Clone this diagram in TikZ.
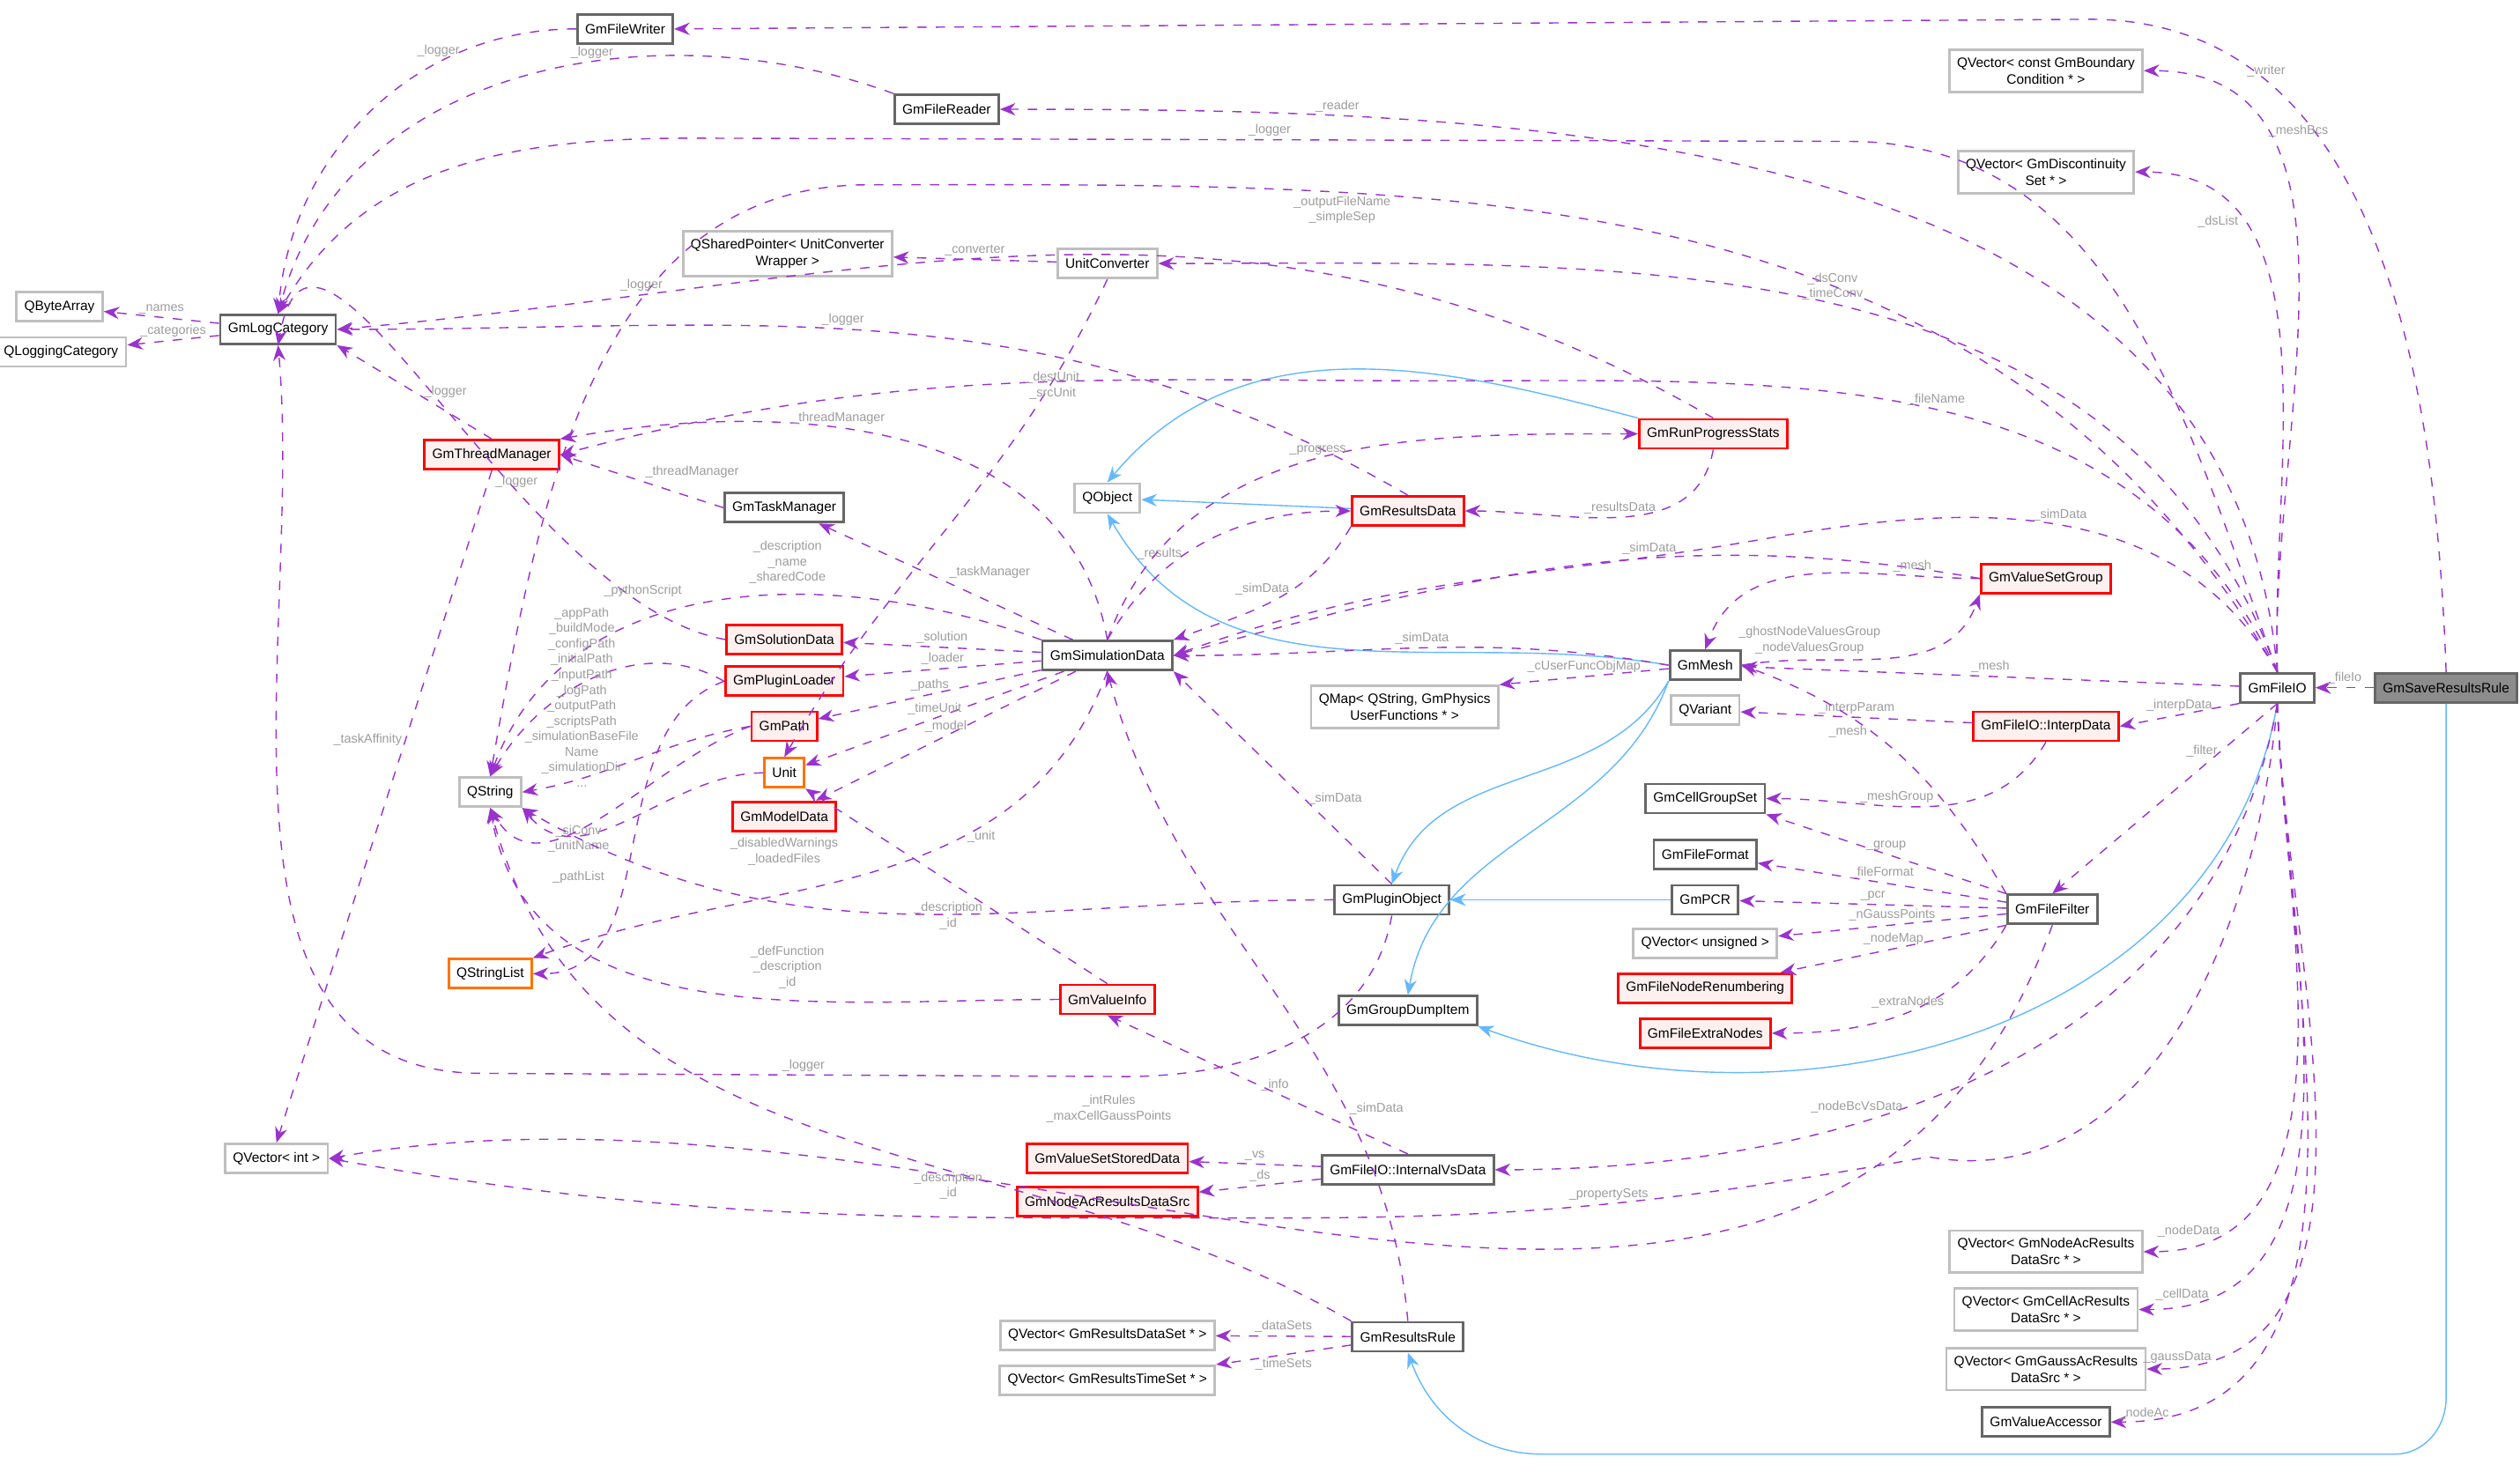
\documentclass[tikz,border=0pt]{standalone}
\usepackage{fontspec}
\setmainfont{Liberation Sans}
\usetikzlibrary{arrows.meta,positioning}
\definecolor{usecol}{HTML}{9A32CD}
\definecolor{inhcol}{HTML}{63B8FF}
\definecolor{lblcol}{HTML}{9C9C9C}
\begin{document}
\begin{tikzpicture}[x=0.01824cm,y=-0.01824cm,
    cls/.style={draw=black!60,fill=white,thick,minimum height=0.33cm,inner sep=2.5pt,align=center,font=\fontsize{4.4}{5.4}\selectfont},
    ext/.style={cls,draw=black!25},
    red/.style={cls,draw=red,fill=red!6},
    orng/.style={cls,draw=orange!90!red,fill=white},
    cur/.style={cls,fill=black!45},
    use/.style={-{Stealth[length=5pt,width=4pt]},dashed,usecol,thin},
    inh/.style={-{Stealth[length=5pt,width=4pt]},inhcol,thin},
    lbl/.style={text=lblcol,font=\fontsize{4.1}{5}\selectfont,align=center,inner sep=1pt}
  ]
    \useasboundingbox (0,0) rectangle (1568,916);
    % classes
    \node[cur] (save) at (1522,428) {GmSaveResultsRule};
    \node[cls] (fio) at (1417,428) {GmFileIO};
    \node[cls] (writer) at (389,18) {GmFileWriter};
    \node[cls] (reader) at (589,68) {GmFileReader};
    \node[ext] (vbc) at (1273,44) {QVector< const GmBoundary\\Condition * >};
    \node[ext] (vds) at (1273,107) {QVector< GmDiscontinuity\\Set * >};
    \node[ext] (bytes) at (37,191) {QByteArray};
    \node[ext] (qlog) at (38,219) {QLoggingCategory};
    \node[cls] (log) at (173,205) {GmLogCategory};
    \node[ext] (qsp) at (490,158) {QSharedPointer< UnitConverter\\Wrapper >};
    \node[ext] (uconv) at (689,164) {UnitConverter};
    \node[red] (thread) at (306,283) {GmThreadManager};
    \node[cls] (task) at (488,316) {GmTaskManager};
    \node[ext] (qobj) at (689,310) {QObject};
    \node[red] (prog) at (1066,270) {GmRunProgressStats};
    \node[red] (rdata) at (876,318) {GmResultsData};
    \node[red] (vsg) at (1273,360) {GmValueSetGroup};
    \node[cls] (sim) at (689,408) {GmSimulationData};
    \node[cls] (mesh) at (1061,414) {GmMesh};
    \node[ext] (qmap) at (874,440) {QMap< QString, GmPhysics\\UserFunctions * >};
    \node[ext] (qvar) at (1061,442) {QVariant};
    \node[red] (interp) at (1273,452) {GmFileIO::InterpData};
    \node[red] (sol) at (488,398) {GmSolutionData};
    \node[red] (loader) at (488,424) {GmPluginLoader};
    \node[red] (path) at (488,452) {GmPath};
    \node[orng] (unit) at (488,481) {Unit};
    \node[red] (model) at (488,508) {GmModelData};
    \node[ext] (qstr) at (305,493) {QString};
    \node[orng] (qsl) at (305,606) {QStringList};
    \node[cls] (cgs) at (1061,497) {GmCellGroupSet};
    \node[cls] (ffmt) at (1061,532) {GmFileFormat};
    \node[cls] (pcr) at (1061,560) {GmPCR};
    \node[cls] (plug) at (866,560) {GmPluginObject};
    \node[ext] (vuns) at (1061,587) {QVector< unsigned >};
    \node[red] (renum) at (1061,615) {GmFileNodeRenumbering};
    \node[red] (extra) at (1061,643) {GmFileExtraNodes};
    \node[cls] (filter) at (1277,566) {GmFileFilter};
    \node[cls] (dump) at (876,629) {GmGroupDumpItem};
    \node[red] (vinfo) at (689,622) {GmValueInfo};
    \node[ext] (vint) at (172,721) {QVector< int >};
    \node[red] (vssd) at (689,721) {GmValueSetStoredData};
    \node[cls] (ivs) at (876,728) {GmFileIO::InternalVsData};
    \node[red] (nads) at (689,748) {GmNodeAcResultsDataSrc};
    \node[ext] (vrds) at (689,831) {QVector< GmResultsDataSet * >};
    \node[ext] (vrts) at (689,859) {QVector< GmResultsTimeSet * >};
    \node[cls] (rrule) at (876,832) {GmResultsRule};
    \node[ext] (vnode) at (1273,779) {QVector< GmNodeAcResults\\DataSrc * >};
    \node[ext] (vcell) at (1273,815) {QVector< GmCellAcResults\\DataSrc * >};
    \node[ext] (vgauss) at (1273,852) {QVector< GmGaussAcResults\\DataSrc * >};
    \node[cls] (vacc) at (1273,885) {GmValueAccessor};

    % inheritance
    \draw[inh] (prog.north west) to[out=165,in=50] (qobj.north);
    \draw[inh] (rdata) -- (qobj);
    \draw[inh] (mesh.west) to[out=170,in=-60] (qobj.south);
    \draw[inh] (mesh.south west) to[out=-120,in=70] (plug.north);
    \draw[inh] (mesh.south west) to[out=-110,in=80] (dump.north);
    \draw[inh] (pcr) -- (plug);
    \draw[inh] (fio.south) to[out=-100,in=-20] (dump.south east);
    \draw[inh] (save.south) -- (1522,870) to[out=-90,in=0] (1490,905) -- (960,905) to[out=180,in=-70] (rrule.south);

    % usage from GmSaveResultsRule and GmFileIO
    \draw[use] (save) -- node[lbl,above] {\_fileIo} (fio);
    \draw[use] (save.north) to[out=92,in=0] node[lbl,pos=0.75,above] {\_writer} (1300,12) -- (writer.east);
    \draw[use] (fio.north) to[out=95,in=0] node[lbl,pos=0.8,above] {\_reader} (reader.east);
    \draw[use] (fio.north) to[out=92,in=0] node[lbl,pos=0.75,right] {\_meshBcs} (vbc.east);
    \draw[use] (fio.north) to[out=92,in=0] node[lbl,pos=0.75,left] {\_dsList} (vds.east);
    \draw[use] (fio.north) to[out=110,in=0] (1150,88) -- node[lbl,above] {\_logger} (430,86) to[out=180,in=60] (log.north);
    \draw[use] (fio.north) to[out=120,in=0] node[lbl,pos=0.72,below] {\_outputFileName\\\_simpleSep} (540,115) to[out=180,in=80] (qstr.north);
    \draw[use] (fio.north) to[out=110,in=0] node[lbl,pos=0.5,above] {\_dsConv\\\_timeConv} (uconv.east);
    \draw[use] (fio.north) to[out=115,in=0] node[lbl,pos=0.5,above] {\_fileName} (900,237) to[out=180,in=15] (thread.east);
    \draw[use] (fio.north) to[out=120,in=10] node[lbl,pos=0.5,above] {\_simData} (1100,335) to[out=190,in=20] (sim.east);
    \draw[use] (fio) -- node[lbl,above] {\_mesh} (mesh);
    \draw[use] (fio.south west) -- node[lbl,above] {\_interpData} (interp.east);
    \draw[use] (fio.south) -- node[lbl,pos=0.25,left] {\_filter} (filter.north);
    \draw[use] (fio.south) to[out=-100,in=0] node[lbl,pos=0.6,left] {\_nodeBcVsData} (ivs.east);
    \draw[use] (fio.south) to[out=-95,in=-10] (1200,720) to[out=190,in=0] node[lbl,above] {\_propertySets} (800,758) to[out=180,in=-10] (vint.east);
    \draw[use] (fio.south) to[out=-88,in=0] node[lbl,pos=0.85,left] {\_nodeData} (vnode.east);
    \draw[use] (fio.south) to[out=-88,in=0] node[lbl,pos=0.88,left] {\_cellData} (vcell.east);
    \draw[use] (fio.south) to[out=-88,in=0] node[lbl,pos=0.9,left] {\_gaussData} (vgauss.east);
    \draw[use] (fio.south) to[out=-88,in=0] node[lbl,pos=0.92,left] {\_nodeAc} (vacc.east);

    % logger and helpers
    \draw[use] (writer.west) to[out=180,in=85] node[lbl,pos=0.25,left] {\_logger} (log.north);
    \draw[use] (reader.north west) to[out=160,in=75] node[lbl,pos=0.4,above] {\_logger} (log.north);
    \draw[use] (log) -- node[lbl,above] {\_names} (bytes);
    \draw[use] (log) -- node[lbl,above] {\_categories} (qlog);
    \draw[use] (uconv) -- node[lbl,above] {\_converter} (qsp);
    \draw[use] (uconv.south) to[out=-115,in=60] (unit.north);
    \node[lbl] (dulbl) at (655,240) {\_destUnit\\\_srcUnit};
    \draw[use] (prog.north) to[out=150,in=5] node[lbl,pos=0.8,above] {\_logger} (log.east);
    \draw[use] (rdata.north) to[out=150,in=0] node[lbl,pos=0.55,above] {\_logger} (log.east);
    \draw[use] (thread.north) -- node[lbl,right=2pt] {\_logger} (log.south east);
    \draw[use] (thread.south) -- node[lbl,pos=0.4,left] {\_taskAffinity} (vint.north);
    \draw[use] (task.west) -- node[lbl,above right] {\_threadManager} (thread.east);

    % GmSimulationData
    \draw[use] (sim.north) to[out=100,in=10] node[lbl,pos=0.6,above] {\_threadManager} (thread.north east);
    \draw[use] (sim) -- node[lbl,above right] {\_taskManager} (task);
    \draw[use] (sim.north west) to[out=160,in=70] (qstr.north);
    \node[lbl] (dnslbl) at (490,350) {\_description\\\_name\\\_sharedCode};
    \draw[use] (sim) -- node[lbl,above] {\_solution} (sol);
    \draw[use] (sim) -- node[lbl,above] {\_loader} (loader);
    \draw[use] (sim) -- node[lbl,above] {\_paths} (path);
    \draw[use] (sim) -- node[lbl,above] {\_timeUnit} (unit);
    \draw[use] (sim) -- node[lbl,above] {\_model} (model);
    \draw[use] (sim.south) to[out=-110,in=20] node[lbl,pos=0.35,right] {\_unit} (qsl.north east);
    \draw[use] (sim.north) to[out=60,in=180] node[lbl,pos=0.4,left] {\_results} (rdata.west);
    \draw[use] (sim.north) to[out=70,in=180] node[lbl,pos=0.5,above] {\_progress} (prog.west);
    \draw[use] (rdata.south west) to[out=-120,in=20] node[lbl,pos=0.4,left] {\_simData} (sim.north east);
    \draw[use] (prog.south) to[out=-100,in=0] node[lbl,pos=0.5,above] {\_resultsData} (rdata.east);
    \draw[use] (vsg.west) to[out=170,in=15] node[lbl,pos=0.4,above] {\_simData} (sim.east);
    \draw[use] (mesh.west) to[out=170,in=0] node[lbl,pos=0.5,above] {\_simData} (sim.east);
    \draw[use] (vsg.west) to[out=180,in=70] node[lbl,pos=0.2,above] {\_mesh} (mesh.north);
    \draw[use] (mesh.east) to[out=10,in=-110] node[lbl,pos=0.5,above left] {\_ghostNodeValuesGroup\\\_nodeValuesGroup} (vsg.south west);
    \draw[use] (mesh) -- node[lbl,above] {\_cUserFuncObjMap} (qmap.north east);
    \draw[use] (interp) -- node[lbl,above] {\_interpParam} (qvar);
    \draw[use] (interp.south) to[out=-120,in=0] node[lbl,pos=0.6,above] {\_meshGroup} (cgs.east);

    % plugin loader, paths, units
    \draw[use] (sol.west) to[out=170,in=80] node[lbl,pos=0.35,above] {\_logger} (log.south);
    \draw[use] (loader.west) to[out=150,in=60] (qstr.north);
    \node[lbl] (pslbl) at (400,368) {\_pythonScript};
    \draw[use] (path.west) to[out=190,in=10] (qstr.east);
    \node[lbl] (pathlbl) at (362,434) {\_appPath\\\_buildMode\\\_configPath\\\_initialPath\\\_inputPath\\\_logPath\\\_outputPath\\\_scriptsPath\\\_simulationBaseFile\\Name\\\_simulationDir\\...};
    \draw[use] (unit.west) to[out=180,in=-50] (qstr.south east);
    \node[lbl] (sclbl) at (360,522) {\_siConv\\\_unitName};
    \draw[use] (loader.west) to[out=200,in=0] (qsl.east);
    \node[lbl] (dwlbl) at (488,530) {\_disabledWarnings\\\_loadedFiles};
    \draw[use] (path.west) to[out=200,in=-60] (qstr.south);
    \node[lbl] (pllbl) at (360,546) {\_pathList};
    \draw[use] (vinfo.west) to[out=180,in=-80] (qstr.south);
    \node[lbl] (dflbl) at (490,602) {\_defFunction\\\_description\\\_id};
    \draw[use] (vinfo.north) -- (unit.south east);
    \draw[use] (plug.west) to[out=180,in=-30] (qstr.south east);
    \node[lbl] (pdlbl) at (590,570) {\_description\\\_id};
    \draw[use] (plug.north) -- node[lbl,pos=0.4,right] {\_simData} (sim.south east);
    \draw[use] (plug.south) to[out=-100,in=0] (700,670) -- node[lbl,above] {\_logger} (300,668) to[out=180,in=-85] (log.south);

    % GmFileFilter
    \draw[use] (filter.north west) to[out=120,in=-20] node[lbl,pos=0.6,left] {\_mesh} (mesh.east);
    \draw[use] (filter.north west) -- node[lbl,above] {\_group} (cgs.south east);
    \draw[use] (filter) -- node[lbl,above] {\_fileFormat} (ffmt);
    \draw[use] (filter) -- node[lbl,above] {\_pcr} (pcr);
    \draw[use] (filter) -- node[lbl,above] {\_nGaussPoints} (vuns);
    \draw[use] (filter.south west) -- node[lbl,above] {\_nodeMap} (renum);
    \draw[use] (filter.south west) to[out=-120,in=0] node[lbl,pos=0.5,above] {\_extraNodes} (extra);
    \draw[use] (filter.south) to[out=-110,in=10] (vint.east);
    \node[lbl] (irlbl) at (690,690) {\_intRules\\\_maxCellGaussPoints};

    % results side
    \draw[use] (ivs) -- node[lbl,above] {\_vs} (vssd);
    \draw[use] (ivs) -- node[lbl,above] {\_ds} (nads);
    \draw[use] (ivs.north) -- node[lbl,right] {\_info} (vinfo.south);
    \draw[use] (rrule.north) to[out=95,in=-75] node[lbl,pos=0.3,right] {\_simData} (sim.south);
    \draw[use] (rrule.north west) to[out=150,in=-75] (qstr.south);
    \node[lbl] (rdlbl) at (590,738) {\_description\\\_id};
    \draw[use] (rrule) -- node[lbl,above] {\_dataSets} (vrds);
    \draw[use] (rrule) -- node[lbl,below] {\_timeSets} (vrts);
\end{tikzpicture}
\end{document}
